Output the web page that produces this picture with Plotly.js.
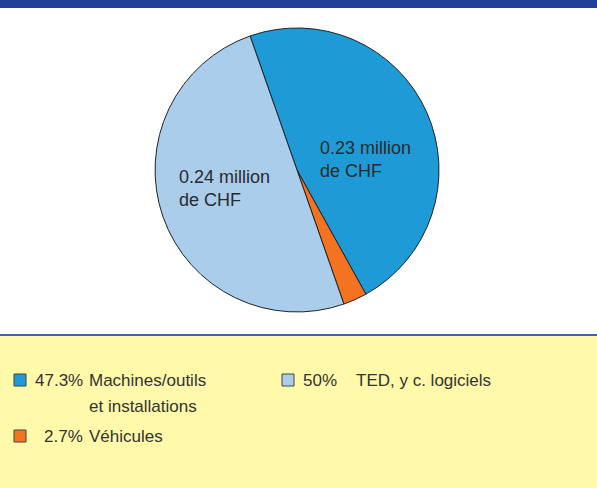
<!DOCTYPE html>
<html>
<head>
<meta charset="utf-8">
<script src="https://cdn.plot.ly/plotly-3.0.1.min.js"></script>
<style>
  html, body { margin: 0; padding: 0; background: #fff; }
  #plot { width: 597px; height: 488px; }
</style>
</head>
<body>
<div id="plot"></div>
<script>
// share of investments, in percent
const categories = ['Machines/outils<br>et installations', 'Véhicules', 'TED, y c. logiciels'];
const shares = [47.3, 2.7, 50];
const shareLabels = ['47.3%', '2.7%', '50%'];
const amounts = ['0.23 million<br>de CHF', '', '0.24 million<br>de CHF'];
const colors = ['#1e9ad6', '#f37321', '#abcdec'];

const W = 597, H = 488;
const px = x => x / W;
const py = y => 1 - y / H;

// pie centre and radius in pixels
const cx = 297, cy = 170, r = 142;

const data = [{
    type: 'pie',
    values: shares,
    labels: categories,
    sort: false,
    direction: 'clockwise',
    rotation: -19.3,
    textinfo: 'none',
    hoverinfo: 'label+percent',
    marker: { colors: colors, line: { color: '#222', width: 1 } },
    domain: { x: [px(cx - r), px(cx + r)], y: [py(cy + r), py(cy - r)] },
    showlegend: false
}];

const shapes = [
    // top band
    { type: 'rect', xref: 'paper', yref: 'paper', x0: 0, x1: 1, y0: py(8), y1: 1,
      fillcolor: '#22409a', line: { width: 0 }, layer: 'below' },
    // yellow legend area
    { type: 'rect', xref: 'paper', yref: 'paper', x0: 0, x1: 1, y0: 0, y1: py(336),
      fillcolor: '#fff9a9', line: { width: 0 }, layer: 'below' },
    { type: 'line', xref: 'paper', yref: 'paper', x0: 0, x1: 1, y0: py(335), y1: py(335),
      line: { color: '#3f5fb0', width: 2 } }
];

const annotations = [];
const txtFont = { family: 'Liberation Sans, Arial, sans-serif', size: 17, color: '#333' };

// legend entries: [square x, row y, percent right edge]
const legendPos = [[14, 380, 83], [14, 436, 83], [282, 380, 336]];
categories.forEach((cat, i) => {
    const [sx, sy, pr] = legendPos[i];
    shapes.push({ type: 'rect', xref: 'paper', yref: 'paper',
        x0: px(sx), x1: px(sx + 12), y0: py(sy + 6), y1: py(sy - 6),
        fillcolor: colors[i], line: { color: '#444', width: 1 } });
    const pctX = i === 2 ? 301 : pr + 2;
    annotations.push({ xref: 'paper', yref: 'paper', x: px(pctX), y: py(sy),
        xanchor: i === 2 ? 'left' : 'right', yanchor: 'middle', showarrow: false,
        text: shareLabels[i], font: txtFont });
    const lines = cat.split('<br>');
    const tx = i === 2 ? 354 : 87;
    lines.forEach((ln, k) => {
        annotations.push({ xref: 'paper', yref: 'paper', x: px(tx), y: py(sy + k * 26),
            xanchor: 'left', yanchor: 'middle', showarrow: false,
            text: ln, font: txtFont });
    });
});

// amounts inside the pie
const amountPos = [[318, 160], null, [177, 188]];
amounts.forEach((a, i) => {
    if (!a) return;
    annotations.push({ xref: 'paper', yref: 'paper', x: px(amountPos[i][0]), y: py(amountPos[i][1]),
        xanchor: 'left', yanchor: 'middle', align: 'left', showarrow: false,
        text: a, font: { family: 'Liberation Sans, Arial, sans-serif', size: 18, color: '#2a2a2a' } });
});

const layout = {
    width: W,
    height: H,
    margin: { l: 0, r: 0, t: 0, b: 0 },
    paper_bgcolor: '#ffffff',
    shapes: shapes,
    annotations: annotations
};

Plotly.newPlot('plot', data, layout, { displayModeBar: false, staticPlot: true });
</script>
</body>
</html>
